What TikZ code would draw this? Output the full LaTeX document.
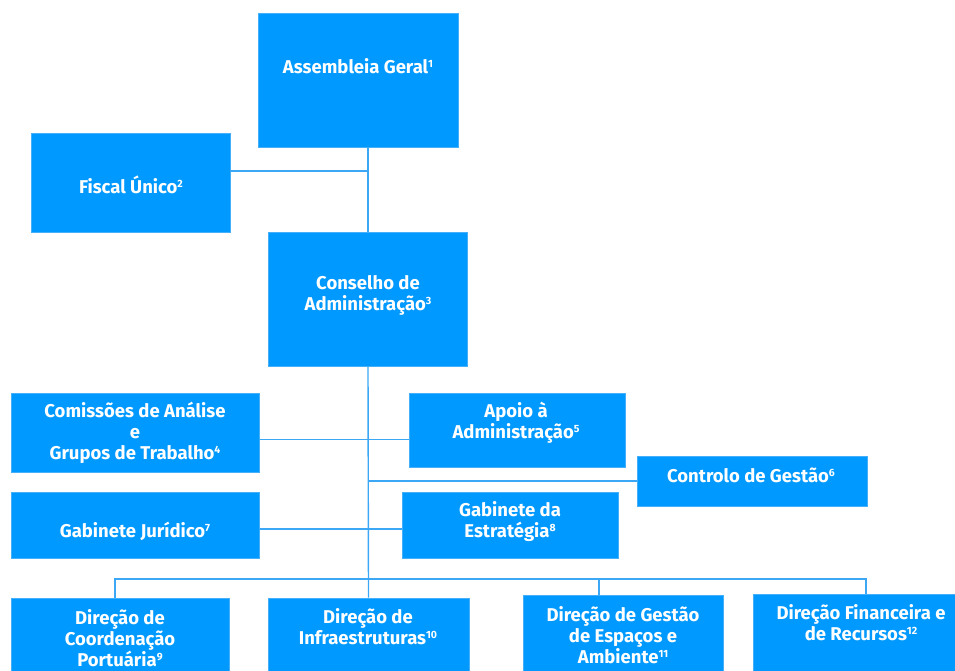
\documentclass[tikz,border=0pt]{standalone}
\usepackage{fontspec}
\setmainfont{Fira Sans}
\newcommand{\sps}[1]{\raisebox{0.6ex}{\fontsize{10.5}{10.5}\selectfont #1}}
\definecolor{boxblue}{RGB}{0,153,255}
\definecolor{edgeblue}{RGB}{70,175,250}
\definecolor{lineblue}{RGB}{60,168,245}
\begin{document}
\begin{tikzpicture}[x=1pt,y=-1pt,
  orgbox/.style={draw=edgeblue, line width=0.8pt, fill=boxblue, inner sep=0pt},
  lbl/.style={text=white, font=\fontsize{18.5}{21}\selectfont\bfseries, align=center, inner sep=0pt},
  conn/.style={draw=lineblue, line width=1.4pt}]
\useasboundingbox (0,0) rectangle (955,670);
\clip (0,0) rectangle (955,670);
% boxes
\node[orgbox, minimum width=200pt, minimum height=134pt] (ag) at (358,80) {};
\node[orgbox, minimum width=199pt, minimum height=99pt] (fu) at (130.5,182.5) {};
\node[orgbox, minimum width=199pt, minimum height=134pt] (ca) at (368,299) {};
\node[orgbox, minimum width=248pt, minimum height=79pt] (cm) at (135,432.5) {};
\node[orgbox, minimum width=216pt, minimum height=74pt] (ap) at (517,430) {};
\node[orgbox, minimum width=230pt, minimum height=50pt] (cg) at (752,481) {};
\node[orgbox, minimum width=248pt, minimum height=66pt] (gj) at (135,525) {};
\node[orgbox, minimum width=216pt, minimum height=66pt] (ge) at (510,525) {};
\node[orgbox, minimum width=218pt, minimum height=92pt] (dc) at (120,644) {};
\node[orgbox, minimum width=201pt, minimum height=92pt] (di) at (368.5,644) {};
\node[orgbox, minimum width=200pt, minimum height=95pt] (dg) at (623,642.5) {};
\node[orgbox, minimum width=207pt, minimum height=96pt] (df) at (856.5,642) {};
% labels
\node[lbl] (tag) at (358,66) {Assembleia Geral\sps{1}};
\node[lbl] (tfu) at (131,185) {Fiscal Único\sps{2}};
\node[lbl] (tca) at (368,295) {Conselho de\\Administração\sps{3}};
\node[lbl] (tcm) at (135,433) {Comissões de Análise\\e\\Grupos de Trabalho\sps{4}};
\node[lbl] (tap) at (516,422.5) {Apoio à\\Administração\sps{5}};
\node[lbl] (tcg) at (751,475) {Controlo de Gestão\sps{6}};
\node[lbl] (tgj) at (135,531) {Gabinete Jurídico\sps{7}};
\node[lbl] (tge) at (510,521.5) {Gabinete da\\Estratégia\sps{8}};
\node[lbl] (tdc) at (120,638) {Direção de\\Coordenação\\Portuária\sps{9}};
\node[lbl] (tdi) at (368,627) {Direção de\\Infraestruturas\sps{10}};
\node[lbl] (tdg) at (623,635) {Direção de Gestão\\de Espaços e\\Ambiente\sps{11}};
\node[lbl] (tdf) at (861,623) {Direção Financeira e\\de Recursos\sps{12}};
% connector points
\coordinate (fuout) at ([yshift=11.5pt]fu.east);
\coordinate (cmout) at ([yshift=-7pt]cm.east);
\coordinate (gjout) at ([yshift=-4pt]gj.east);
\coordinate (b1) at (115,579);
\coordinate (b3) at (599,579);
\coordinate (b4) at (866,579);
% connectors
\draw[conn] (ca.north |- ag.south) -- (ca.north);
\draw[conn] (fuout) -- (fuout -| ca.north);
\draw[conn] (ca.south) -- (di.north);
\draw[conn] (cmout) -- (cmout -| ap.west);
\draw[conn] (cg.west -| ca.south) -- (cg.west);
\draw[conn] (gjout) -- (gjout -| ge.west);
\draw[conn] (b1 |- dc.north) -- (b1) -- (b4) -- (b4 |- df.north);
\draw[conn] (b3) -- (b3 |- dg.north);
\end{tikzpicture}
\end{document}
